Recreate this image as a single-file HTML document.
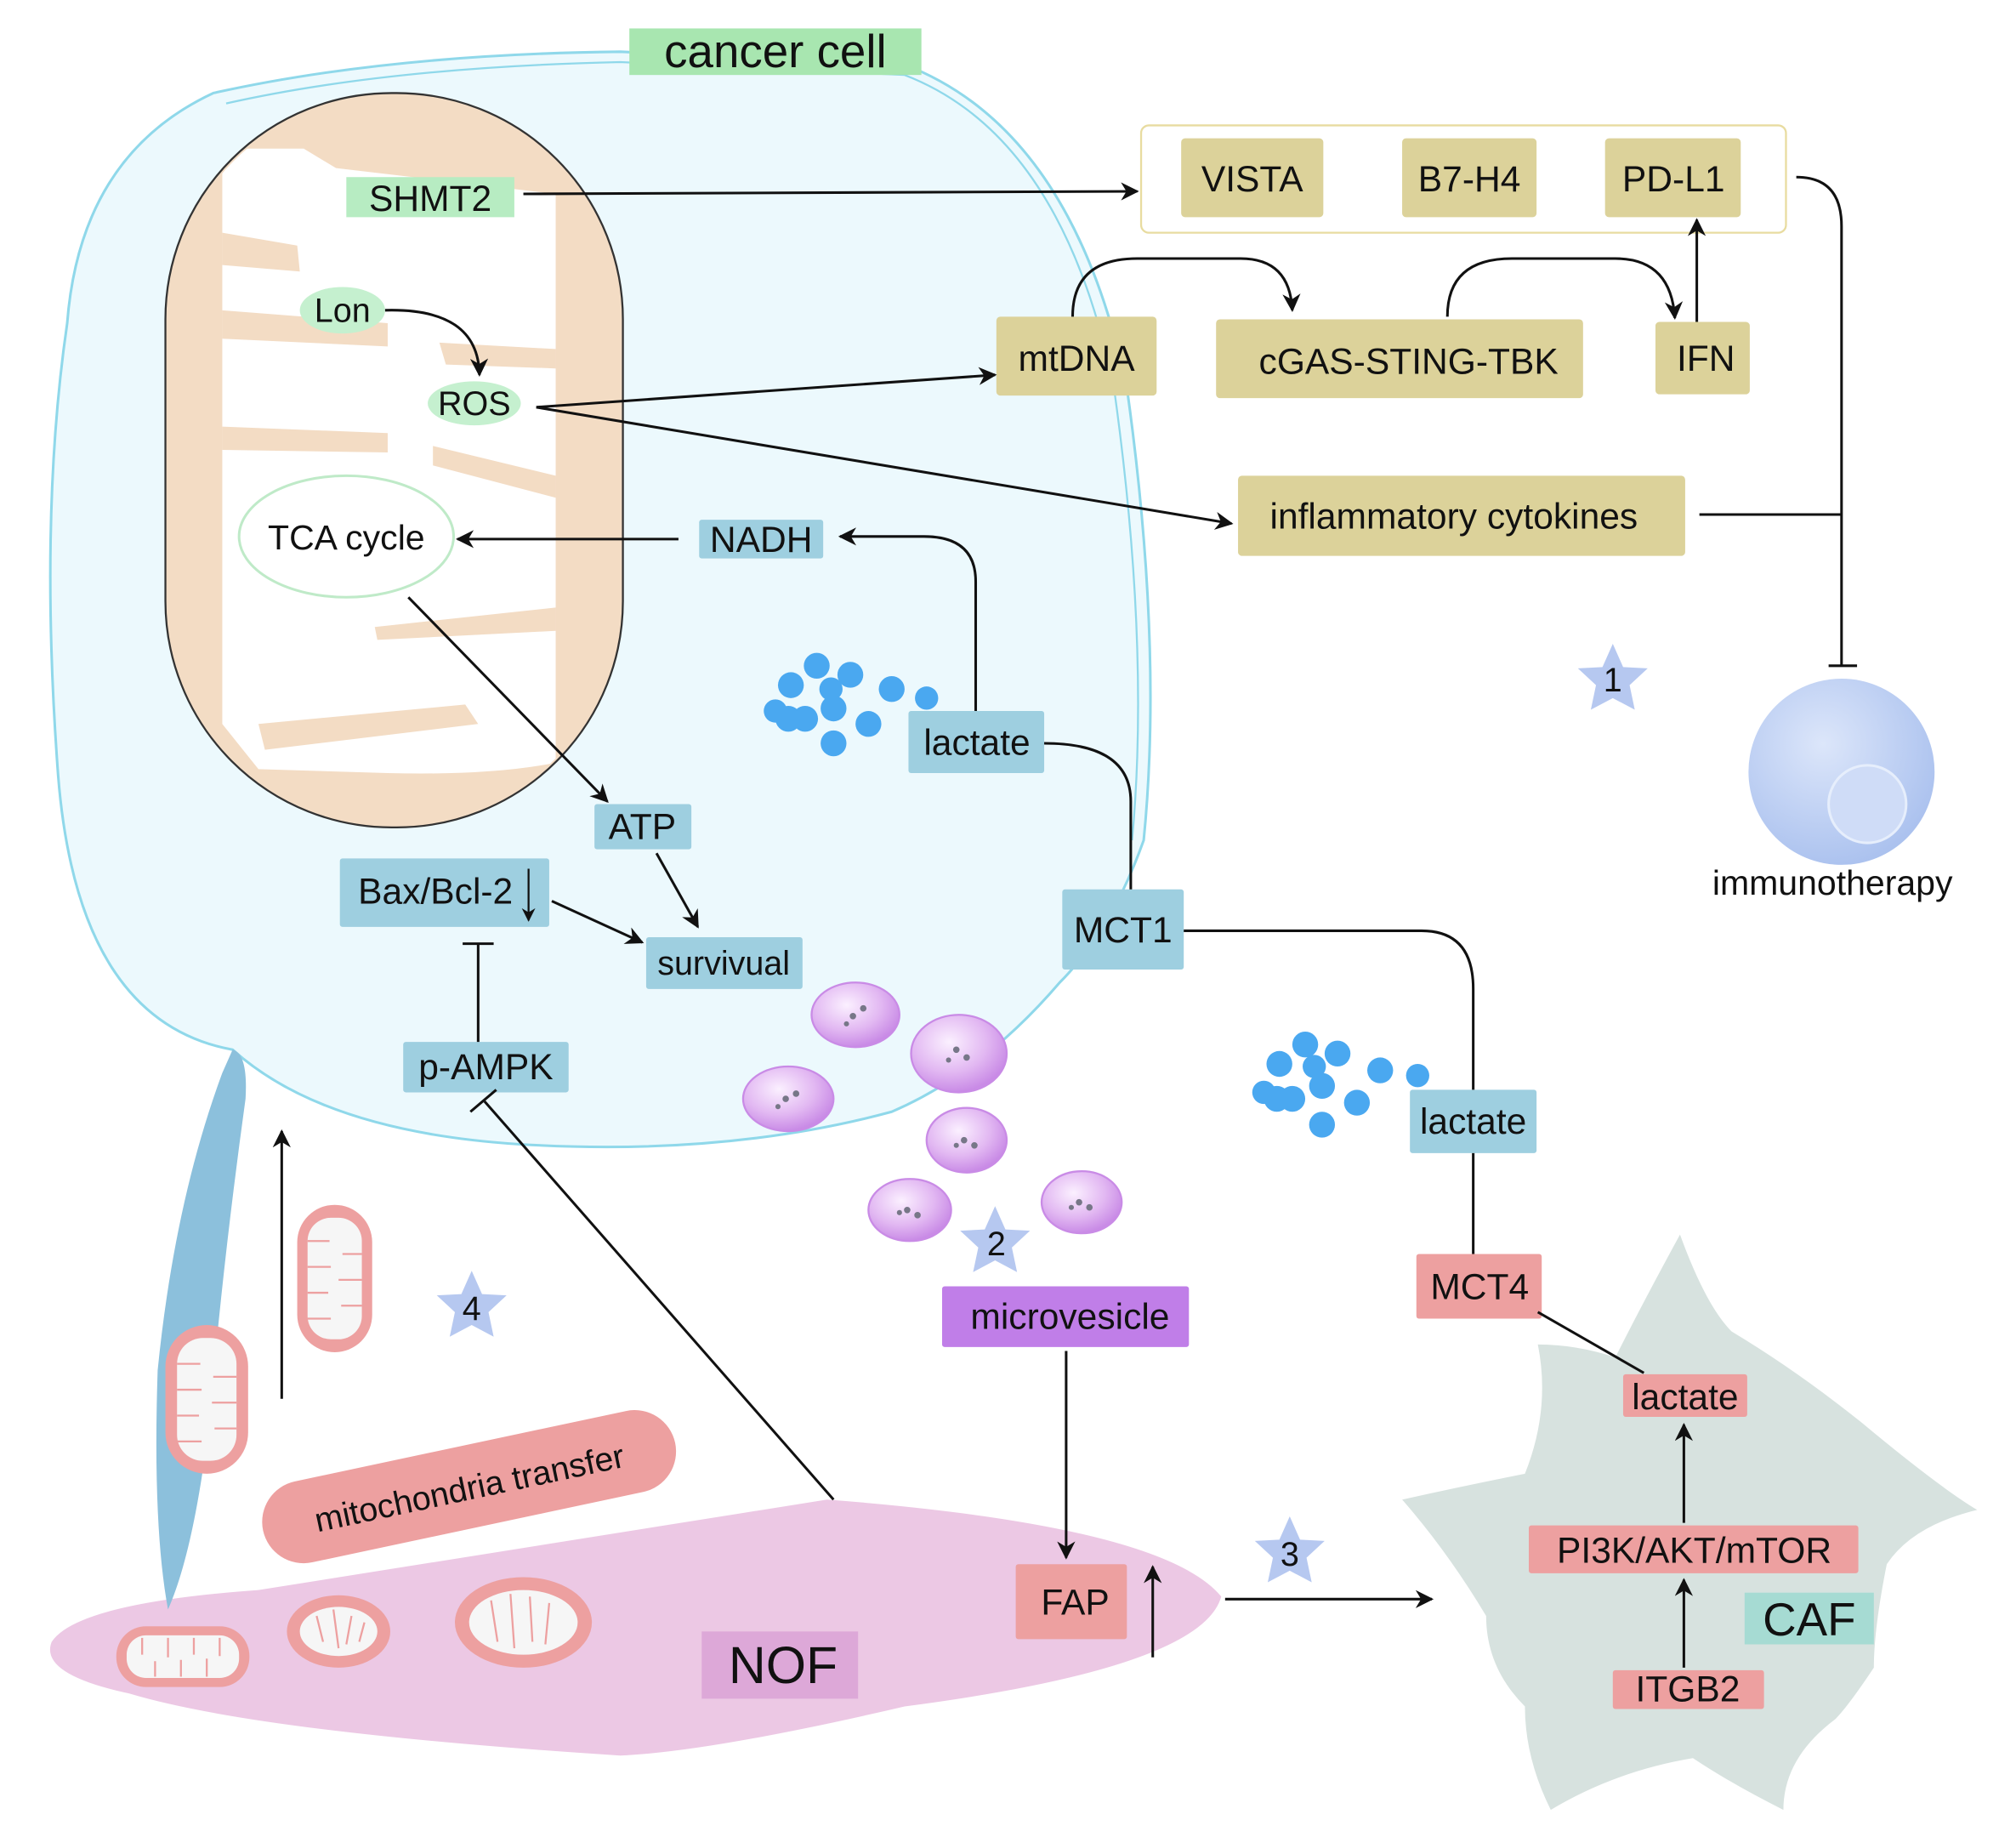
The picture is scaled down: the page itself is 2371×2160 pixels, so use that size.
<!DOCTYPE html>
<html><head><meta charset="utf-8"><style>
html,body{margin:0;padding:0;background:#fff;}
svg{display:block;}
text{font-family:"Liberation Sans",sans-serif;fill:#111;}
</style></head><body>
<svg width="2371" height="2160" viewBox="0 0 1560 1421" preserveAspectRatio="none" xmlns="http://www.w3.org/2000/svg">
<defs>
<marker id="a" viewBox="0 0 10 10" refX="9" refY="5" markerWidth="7" markerHeight="7" orient="auto-start-reverse"><path d="M0,0 L10,5 L0,10 L3,5 Z" fill="#111"/></marker>
<radialGradient id="mv" cx="40%" cy="35%" r="65%"><stop offset="0" stop-color="#fbf0ff"/><stop offset="0.6" stop-color="#e2b8f2"/><stop offset="1" stop-color="#c98be6"/></radialGradient>
<radialGradient id="imm" cx="40%" cy="35%" r="70%"><stop offset="0" stop-color="#dce6fa"/><stop offset="1" stop-color="#a9c0ee"/></radialGradient>
<clipPath id="mc"><rect x="130" y="74" width="350" height="564" rx="173"/></clipPath>
</defs>
<!-- cancer cell -->
<path d="M165,72 Q300,42 480,40 L700,50 Q830,100 872,300 Q900,500 885,650 Q860,720 820,760 Q760,830 690,860 Q560,895 400,885 Q250,875 180,812 Q60,790 45,600 Q30,400 52,250 Q62,120 165,72 Z" fill="#ecf9fd" stroke="#8fd8ea" stroke-width="2"/>
<path d="M175,80 Q300,52 480,48 L700,58 Q822,105 862,300 Q890,500 876,650" fill="none" stroke="#8fd8ea" stroke-width="1.5"/>
<rect x="487" y="22" width="226" height="36" fill="#a8e6b0"/>
<text x="600" y="52" font-size="36" text-anchor="middle">cancer cell</text>
<!-- mitochondrion -->
<rect x="128" y="72" width="354" height="568" rx="175" fill="#f3dcc4" stroke="#333" stroke-width="1.5"/>
<g clip-path="url(#mc)">
<path d="M172,115 L235,115 L260,130 L430,150 L430,590 Q380,600 300,598 L200,595 L172,560 Z" fill="#fff"/>
<g fill="#f3dcc4">
<path d="M172,240 L300,250 L300,268 L172,262 Z"/>
<path d="M340,265 L430,270 L430,285 L345,282 Z"/>
<path d="M172,330 L300,335 L300,350 L172,348 Z"/>
<path d="M335,345 L430,368 L430,385 L335,360 Z"/>
<path d="M290,485 L430,470 L430,488 L292,495 Z"/>
<path d="M200,560 L360,545 L370,560 L205,580 Z"/>
<path d="M172,180 L230,190 L232,210 L172,205 Z"/>
</g>
</g>
<rect x="268" y="137" width="130" height="31" fill="#b7ecc2"/>
<text x="333" y="163" font-size="28" text-anchor="middle">SHMT2</text>
<ellipse cx="265" cy="240" rx="33" ry="18" fill="#c5f0cf"/>
<text x="265" y="249" font-size="26" text-anchor="middle">Lon</text>
<ellipse cx="367" cy="312" rx="36" ry="17" fill="#c5f0cf"/>
<text x="367" y="321" font-size="26" text-anchor="middle">ROS</text>
<ellipse cx="268" cy="415" rx="83" ry="47" fill="#fff" stroke="#bfeac8" stroke-width="2"/>
<text x="268" y="425" font-size="27" text-anchor="middle">TCA cycle</text>
<!-- top boxes -->
<rect x="883" y="97" width="499" height="83" rx="6" fill="#fff" stroke="#e8dca0" stroke-width="1.5"/>
<g fill="#dcd29a">
<rect x="914" y="107" width="110" height="61" rx="3"/>
<rect x="1085" y="107" width="104" height="61" rx="3"/>
<rect x="1242" y="107" width="105" height="61" rx="3"/>
<rect x="771" y="245" width="124" height="61" rx="3"/>
<rect x="941" y="247" width="284" height="61" rx="3"/>
<rect x="1281" y="249" width="73" height="56" rx="3"/>
<rect x="958" y="368" width="346" height="62" rx="3"/>
</g>
<g font-size="28" text-anchor="middle">
<text x="969" y="148">VISTA</text>
<text x="1137" y="148">B7-H4</text>
<text x="1295" y="148">PD-L1</text>
<text x="833" y="287">mtDNA</text>
<text x="1090" y="289">cGAS-STING-TBK</text>
<text x="1320" y="287">IFN</text>
<text x="1125" y="409">inflammatory cytokines</text>
</g>
<!-- top connectors -->
<g fill="none" stroke="#111" stroke-width="2">
<path d="M405,150 L880,148" marker-end="url(#a)"/>
<path d="M298,240 Q370,238 371,290" marker-end="url(#a)"/>
<path d="M415,315 L770,290" marker-end="url(#a)"/>
<path d="M415,315 L953,405" marker-end="url(#a)"/>
<path d="M830,245 Q830,200 880,200 L960,200 Q998,200 1000,240" marker-end="url(#a)"/>
<path d="M1120,245 Q1120,200 1170,200 L1250,200 Q1293,200 1296,246" marker-end="url(#a)"/>
<path d="M1313,249 L1313,170" marker-end="url(#a)"/>
<path d="M1390,137 Q1425,137 1425,175 L1425,515"/>
<path d="M1415,515 L1437,515"/>
<path d="M1315,398 L1425,398"/>
</g>
<circle cx="1425" cy="597" r="72" fill="url(#imm)"/>
<circle cx="1445" cy="622" r="30" fill="#cfdcf7" stroke="#e6eefc" stroke-width="2"/>
<text x="1418" y="692" font-size="27" text-anchor="middle">immunotherapy</text>
<!-- stars -->
<g fill="#b6c8f0">
<path d="M1248,498 L1256,516 L1275,517 L1261,530 L1265,549 L1248,540 L1231,549 L1235,530 L1221,517 L1240,516 Z"/>
<path d="M770,933 L778,951 L797,952 L783,965 L787,984 L770,975 L753,984 L757,965 L743,952 L762,951 Z"/>
<path d="M998,1173 L1006,1191 L1025,1192 L1011,1205 L1015,1224 L998,1215 L981,1224 L985,1205 L971,1192 L990,1191 Z"/>
<path d="M365,983 L373,1001 L392,1002 L378,1015 L382,1034 L365,1025 L348,1034 L352,1015 L338,1002 L357,1001 Z"/>
</g>
<g font-size="26" text-anchor="middle">
<text x="1248" y="535">1</text><text x="771" y="971">2</text><text x="998" y="1211">3</text><text x="365" y="1021">4</text>
</g>
<!-- blue boxes -->
<g fill="#9ecfe0">
<rect x="541" y="402" width="96" height="30" rx="2"/>
<rect x="703" y="550" width="105" height="48" rx="2"/>
<rect x="822" y="688" width="94" height="62" rx="2"/>
<rect x="1091" y="843" width="98" height="49" rx="2"/>
<rect x="460" y="622" width="75" height="35" rx="2"/>
<rect x="500" y="725" width="121" height="40" rx="2"/>
<rect x="263" y="664" width="162" height="53" rx="2"/>
<rect x="312" y="806" width="128" height="39" rx="2"/>
</g>
<g font-size="28" text-anchor="middle">
<text x="589" y="427">NADH</text>
<text x="756" y="584">lactate</text>
<text x="869" y="729">MCT1</text>
<text x="1140" y="877">lactate</text>
<text x="497" y="649">ATP</text>
<text x="560" y="754" font-size="26">survivual</text>
<text x="337" y="699">Bax/Bcl-2</text>
<text x="376" y="835">p-AMPK</text>
</g>
<!-- red boxes -->
<g fill="#eda0a0">
<rect x="1096" y="970" width="97" height="50" rx="2"/>
</g>
<!-- CAF -->
<path d="M1300,955 Q1320,1010 1340,1030 Q1390,1060 1440,1100 Q1500,1150 1530,1168 Q1480,1180 1460,1210 Q1450,1260 1450,1290 Q1430,1320 1420,1330 Q1380,1360 1380,1400 Q1340,1380 1310,1360 Q1250,1370 1200,1400 Q1180,1360 1180,1320 Q1150,1290 1150,1250 Q1120,1200 1085,1160 Q1130,1150 1180,1140 Q1200,1090 1190,1040 Q1220,1040 1250,1050 Q1270,1010 1300,955 Z" fill="#d7e2df"/>
<rect x="1256" y="1063" width="96" height="33" rx="2" fill="#eda0a0"/>
<rect x="1183" y="1180" width="255" height="37" rx="2" fill="#eda0a0"/>
<rect x="1248" y="1292" width="117" height="30" rx="2" fill="#eda0a0"/>
<rect x="1350" y="1232" width="100" height="40" fill="#a6dbd3"/>
<g font-size="28" text-anchor="middle">
<text x="1145" y="1005">MCT4</text>
<text x="1304" y="1090">lactate</text>
<text x="1311" y="1209">PI3K/AKT/mTOR</text>
<text x="1306" y="1316">ITGB2</text>
<text x="1400" y="1265" font-size="36">CAF</text>
</g>
<!-- blue dots -->
<g fill="#4aa8f0">
<circle cx="612" cy="530" r="10"/><circle cx="632" cy="515" r="10"/><circle cx="658" cy="522" r="10"/><circle cx="643" cy="533" r="9"/><circle cx="690" cy="533" r="10"/><circle cx="717" cy="540" r="9"/><circle cx="600" cy="550" r="9"/><circle cx="610" cy="556" r="10"/><circle cx="623" cy="556" r="10"/><circle cx="645" cy="548" r="10"/><circle cx="672" cy="560" r="10"/><circle cx="645" cy="575" r="10"/>
<circle cx="1010" cy="808" r="10"/><circle cx="990" cy="823" r="10"/><circle cx="1017" cy="825" r="9"/><circle cx="1035" cy="815" r="10"/><circle cx="1068" cy="828" r="10"/><circle cx="1097" cy="832" r="9"/><circle cx="978" cy="845" r="9"/><circle cx="988" cy="850" r="10"/><circle cx="1000" cy="850" r="10"/><circle cx="1023" cy="840" r="10"/><circle cx="1050" cy="853" r="10"/><circle cx="1023" cy="870" r="10"/>
</g>
<!-- microvesicles -->
<g fill="url(#mv)" stroke="#c98be6" stroke-width="1.5">
<ellipse cx="662" cy="785" rx="34" ry="25"/>
<ellipse cx="742" cy="815" rx="37" ry="30"/>
<ellipse cx="610" cy="850" rx="35" ry="25"/>
<ellipse cx="748" cy="882" rx="31" ry="25"/>
<ellipse cx="704" cy="936" rx="32" ry="24"/>
<ellipse cx="837" cy="930" rx="31" ry="24"/>
</g>
<g fill="#778" >
<circle cx="660" cy="786" r="2.5"/><circle cx="668" cy="780" r="2.5"/><circle cx="655" cy="792" r="2"/>
<circle cx="740" cy="812" r="2.5"/><circle cx="748" cy="818" r="2.5"/><circle cx="734" cy="820" r="2"/>
<circle cx="608" cy="850" r="2.5"/><circle cx="616" cy="846" r="2.5"/><circle cx="602" cy="856" r="2"/>
<circle cx="746" cy="882" r="2.5"/><circle cx="754" cy="886" r="2.5"/><circle cx="740" cy="886" r="2"/>
<circle cx="702" cy="936" r="2.5"/><circle cx="710" cy="940" r="2.5"/><circle cx="696" cy="938" r="2"/>
<circle cx="835" cy="930" r="2.5"/><circle cx="843" cy="934" r="2.5"/><circle cx="829" cy="934" r="2"/>
</g>
<rect x="729" y="995" width="191" height="47" rx="2" fill="#c07ee8"/>
<text x="828" y="1028" font-size="28" text-anchor="middle">microvesicle</text>
<!-- NOF -->
<path d="M40,1270 Q60,1240 200,1230 L640,1160 Q900,1180 945,1235 Q930,1290 700,1320 Q550,1355 480,1358 Q200,1340 100,1310 Q30,1295 40,1270 Z" fill="#ecc8e4"/>
<rect x="543" y="1262" width="121" height="52" fill="#dda8d8"/>
<text x="606" y="1302" font-size="40" text-anchor="middle">NOF</text>
<rect x="786" y="1210" width="86" height="58" rx="2" fill="#eda0a0"/>
<text x="832" y="1249" font-size="28" text-anchor="middle">FAP</text>
<!-- spindle -->
<path d="M180,812 Q192,815 190,850 Q172,980 162,1100 Q150,1200 130,1245 Q118,1180 122,1060 Q135,930 172,830 Z" fill="#8cc0dc"/>
<!-- mitochondria red -->
<g fill="#eda0a0">
<rect x="230" y="932" width="58" height="114" rx="29"/>
<rect x="128" y="1025" width="64" height="115" rx="32"/>
<rect x="90" y="1258" width="103" height="47" rx="23"/>
<ellipse cx="262" cy="1262" rx="40" ry="28"/>
<ellipse cx="405" cy="1255" rx="53" ry="35"/>
</g>
<g fill="#f6f6f6">
<rect x="238" y="942" width="42" height="94" rx="18"/>
<rect x="137" y="1035" width="46" height="95" rx="20"/>
<rect x="98" y="1265" width="87" height="33" rx="15"/>
<ellipse cx="262" cy="1262" rx="30" ry="19"/>
<ellipse cx="405" cy="1255" rx="42" ry="25"/>
</g>
<g stroke="#eda0a0" stroke-width="1.5">
<path d="M238,960 H255 M265,970 H280 M238,980 H256 M262,990 H280 M238,1000 H254 M264,1010 H280 M238,1020 H256"/>
<path d="M137,1055 H155 M165,1065 H183 M137,1075 H156 M164,1085 H183 M137,1095 H154 M166,1105 H183 M137,1115 H156"/>
<path d="M110,1267 V1280 M120,1285 V1297 M130,1267 V1282 M140,1284 V1297 M150,1267 V1280 M160,1283 V1297 M170,1267 V1281"/>
<path d="M245,1250 L250,1270 M258,1245 L262,1275 M272,1250 L268,1272 M282,1255 L278,1270"/>
<path d="M380,1238 L385,1270 M395,1233 L398,1275 M410,1235 L412,1270 M425,1240 L422,1272"/>
</g>
<g transform="rotate(-12 363 1150)">
<rect x="200" y="1118" width="326" height="64" rx="32" fill="#eda0a0"/>
<text x="363" y="1160" font-size="26" text-anchor="middle">mitochondria transfer</text>
</g>
<!-- lower connectors -->
<g fill="none" stroke="#111" stroke-width="2">
<path d="M525,417 L354,417" marker-end="url(#a)"/>
<path d="M755,550 L755,450 Q755,415 715,415 L650,415" marker-end="url(#a)"/>
<path d="M808,575 Q875,575 875,620 L875,688"/>
<path d="M916,720 L1100,720 Q1140,720 1140,765 L1140,843"/>
<path d="M1140,892 L1140,970"/>
<path d="M1190,1015 L1272,1062"/>
<path d="M1303,1178 L1303,1102" marker-end="url(#a)"/>
<path d="M1303,1290 L1303,1222" marker-end="url(#a)"/>
<path d="M316,462 L470,620" marker-end="url(#a)"/>
<path d="M508,660 L540,717" marker-end="url(#a)"/>
<path d="M427,697 L497,729" marker-end="url(#a)"/>
<path d="M409,672 L409,712" marker-end="url(#a)" stroke-width="1.5"/>
<path d="M370,806 L370,730 M358,730 L382,730"/>
<path d="M645,1160 L375,852 M364,860 L384,843"/>
<path d="M825,1045 L825,1205" marker-end="url(#a)"/>
<path d="M892,1282 L892,1212" marker-end="url(#a)"/>
<path d="M948,1237 L1108,1237" marker-end="url(#a)"/>
<path d="M218,1082 L218,875" marker-end="url(#a)"/>
</g>
</svg>
</body></html>
